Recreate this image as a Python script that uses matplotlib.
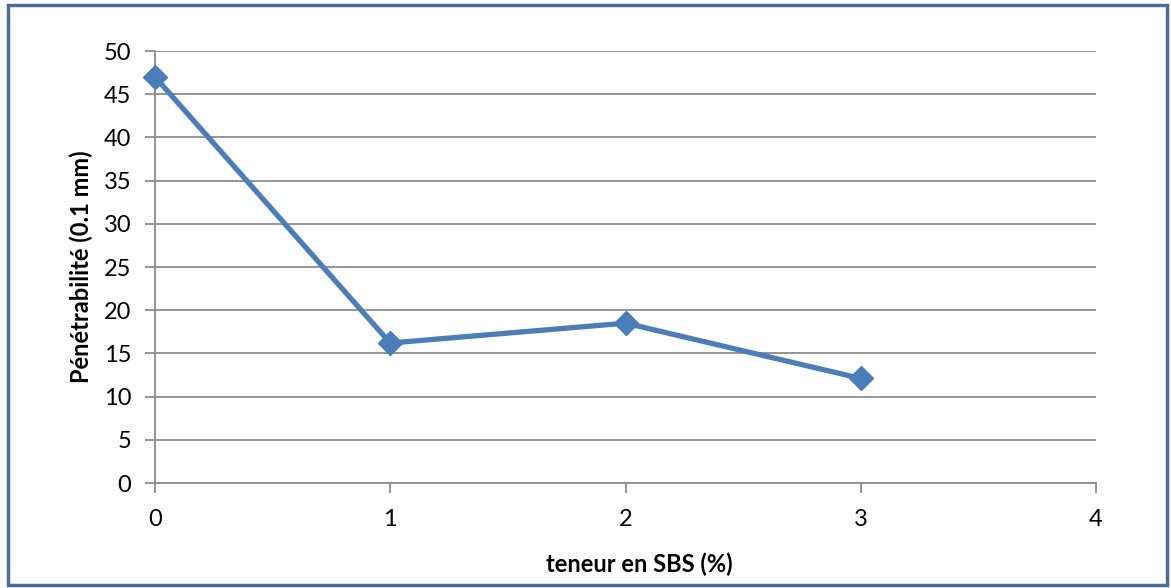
import matplotlib.pyplot as plt
from matplotlib.patches import Rectangle

plt.rcParams['font.family'] = ['Lato', 'DejaVu Sans']

# teneur en SBS et pénétrabilité mesurée
teneur = [0, 1, 2, 3]
penetrabilite = [47.0, 16.2, 18.5, 12.1]
xticks = [0, 1, 2, 3, 4]
yticks = list(range(0, 51, 5))

fig = plt.figure(figsize=(11.71, 5.88), dpi=100)
ax = fig.add_axes([155 / 1171, 1 - 483 / 588, (1096 - 155) / 1171, (483 - 51) / 588])

grid_col = '#8c8c8c'
ax.set_xlim(0, 4)
ax.set_ylim(0, 50)
ax.set_xticks(xticks)
ax.set_yticks(yticks)
ax.yaxis.grid(True, color=grid_col, linewidth=1.3)
ax.set_axisbelow(True)
for s in ['top', 'right']:
    ax.spines[s].set_visible(False)
for s in ['left', 'bottom']:
    ax.spines[s].set_color(grid_col)
    ax.spines[s].set_linewidth(1.3)
ax.tick_params(axis='both', colors=grid_col, length=7, width=1.3, labelsize=17,
               labelcolor='black')
ax.tick_params(axis='x', pad=12)
ax.tick_params(axis='y', pad=10)

ax.plot(teneur, penetrabilite, color='#4a7ebb', linewidth=3.8, marker='D',
        markersize=12, clip_on=False, zorder=3)

ax.set_xlabel('teneur en SBS (%)', fontsize=17, fontweight='bold', labelpad=16)
ax.set_ylabel('Pénétrabilité (0.1 mm)', fontsize=17, fontweight='bold', labelpad=8)
# titre de l'axe x légèrement décalé vers la droite
ax.xaxis.label.set_x(0.515)

# cadre autour du graphique
fig.patches.append(Rectangle((8 / 1171, 3 / 588), 1159 / 1171, 580 / 588,
                             transform=fig.transFigure, fill=False,
                             edgecolor='#4a6d9a', linewidth=2.5))

fig.savefig('out.png', dpi=100)
